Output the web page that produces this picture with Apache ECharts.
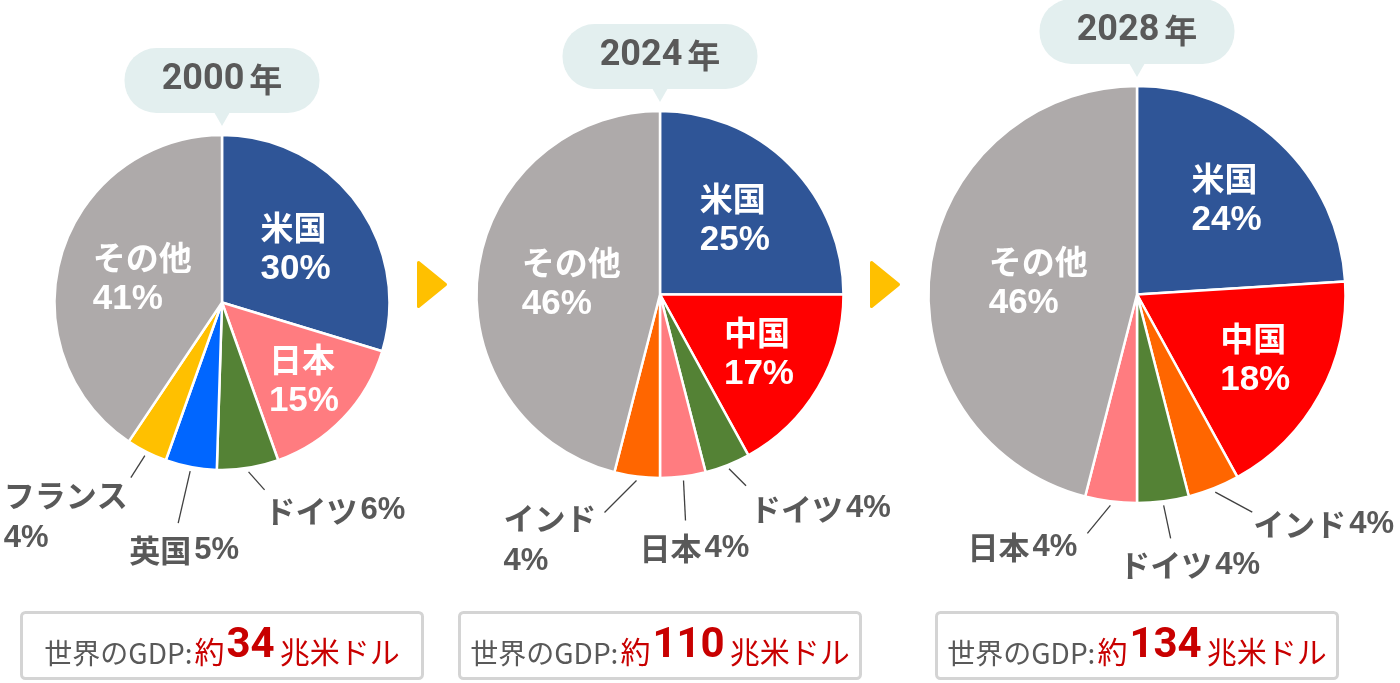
<!DOCTYPE html>
<html><head><meta charset="utf-8">
<script src="https://cdn.jsdelivr.net/npm/echarts@6/dist/echarts.min.js"></script>
<style>html,body{margin:0;padding:0;background:#fff}#c{width:1400px;height:683px}</style>
</head><body><div id="c"></div>
<script>
// ---- data ----
const years = ['2000', '2024', '2028'];
const yearSuffix = '年';
const gdpTotals = ['34', '110', '134'];
const gdpPrefix = '世界のGDP:';
const gdpApprox = '約';
const gdpUnit = '兆米ドル';

const names2000 = ['米国', '日本', 'ドイツ', '英国', 'フランス', 'その他'];
const values2000 = [30, 15, 6, 5, 4, 41];
const names2024 = ['米国', '中国', 'ドイツ', '日本', 'インド', 'その他'];
const values2024 = [25, 17, 4, 4, 4, 46];
const names2028 = ['米国', '中国', 'インド', 'ドイツ', '日本', 'その他'];
const values2028 = [24, 18, 4, 4, 4, 46];

const allNames = [names2000, names2024, names2028];
const allValues = [values2000, values2024, values2028];

// ---- styles / layout ----
const countryColors = {
  '米国': '#2f5597', '日本': '#ff7c80', 'ドイツ': '#548235', '英国': '#0066ff',
  'フランス': '#ffc000', 'その他': '#aeaaaa', '中国': '#ff0000', 'インド': '#ff6600'
};
const pieGeom = [
  { cx: 222, cy: 302.5, r: 166.5 },
  { cx: 660, cy: 294.5, r: 182.5 },
  { cx: 1137, cy: 294.5, r: 207.5 }
];
const innerLabelRadius = [
  { '米国': 0.55, '日本': 0.68, 'その他': 0.50 },
  { '米国': 0.58, '中国': 0.63, 'その他': 0.49 },
  { '米国': 0.63, '中国': 0.65, 'その他': 0.48 }
];
const outerLabelLayout = [
  { 'ドイツ': { line: [16, 18], text: [0, 21], align: 'left' },
    '英国': { line: [-12, 52], text: [6, 27], align: 'center' },
    'フランス': { line: [-14, 22], text: [-3, 39], align: 'right', wrap: true } },
  { 'ドイツ': { line: [17, 17], text: [4, 23], align: 'left' },
    '日本': { line: [2, 40], text: [9, 28], align: 'center' },
    'インド': { line: [-32, 32], text: [-8, 27.5], align: 'right', wrap: true } },
  { 'インド': { line: [37, 20], text: [1, 12], align: 'left' },
    'ドイツ': { line: [7, 33], text: [19, 27], align: 'center' },
    '日本': { line: [-23, 28], text: [-10, 14], align: 'right' } }
];
const lineGap = 5;
const CJK = "'Noto Sans CJK JP', sans-serif";
const NUM = "'Liberation Sans', 'Noto Sans CJK JP', sans-serif";
const GRAY = '#595959';
const RED = '#c80000';

function makeLabelLayout(si) {
  return function (p) {
    const g = pieGeom[si];
    const vals = allValues[si];
    const total = vals.reduce((a, b) => a + b, 0);
    let cum = 0;
    for (let i = 0; i < p.dataIndex; i++) cum += vals[i];
    const ang = (cum + vals[p.dataIndex] / 2) / total * Math.PI * 2;
    const dx = Math.sin(ang), dy = -Math.cos(ang);
    const name = allNames[si][p.dataIndex];
    const f = innerLabelRadius[si][name];
    if (f != null) {
      return { x: g.cx + dx * f * g.r, y: g.cy + dy * f * g.r, align: 'center', verticalAlign: 'middle' };
    }
    const o = outerLabelLayout[si][name];
    const sx = g.cx + dx * (g.r + lineGap), sy = g.cy + dy * (g.r + lineGap);
    const ex = sx + o.line[0], ey = sy + o.line[1];
    return {
      x: ex + o.text[0], y: ey + o.text[1], align: o.align, verticalAlign: 'middle',
      labelLinePoints: [[sx, sy], [ex, ey]]
    };
  };
}

const series = pieGeom.map((g, si) => ({
  type: 'pie',
  center: [g.cx, g.cy],
  radius: g.r + 1,
  startAngle: 90,
  clockwise: true,
  avoidLabelOverlap: false,
  animation: false,
  emphasis: { disabled: true },
  itemStyle: { borderColor: '#ffffff', borderWidth: 2.5 },
  data: allNames[si].map((n, i) => {
    const inner = innerLabelRadius[si][n] != null;
    return {
      name: n, value: allValues[si][i],
      itemStyle: { color: countryColors[n] },
      label: { position: inner ? 'inside' : 'outside' },
      labelLine: { show: !inner }
    };
  }),
  label: {
    show: true,
    formatter: function (p) {
      if (innerLabelRadius[si][p.name] != null) return '{ni|' + p.name + '}\n{pi|' + p.value + '%}';
      const o = outerLabelLayout[si][p.name];
      return o.wrap ? '{no|' + p.name + '}\n{pw|' + p.value + '%}' : '{no|' + p.name + '}{po|' + p.value + '%}';
    },
    rich: {
      ni: { color: '#fff', fontSize: 33, fontWeight: 'bold', fontFamily: CJK, lineHeight: 42, align: 'left' },
      pi: { color: '#fff', fontSize: 35, fontWeight: 'bold', fontFamily: NUM, lineHeight: 42, align: 'left' },
      no: { color: GRAY, fontSize: 31, fontWeight: 'bold', fontFamily: CJK, lineHeight: 43, align: 'left' },
      po: { color: GRAY, fontSize: 31, fontWeight: 'bold', fontFamily: NUM, lineHeight: 43, align: 'left', padding: [0, 0, 0, 3] },
      pw: { color: GRAY, fontSize: 31, fontWeight: 'bold', fontFamily: NUM, lineHeight: 43, align: 'left' }
    }
  },
  labelLine: { show: true, length: 10, length2: 0, lineStyle: { color: '#404040', width: 1.3 } },
  labelLayout: makeLabelLayout(si)
}));

const graphics = [];
// arrows between pies
const arrowShapes = [
  [[418.5, 262.5], [445.5, 284.5], [418.5, 306.5]],
  [[871.5, 262.5], [898.5, 284.5], [871.5, 306.5]]
];
arrowShapes.forEach(pts => graphics.push({
  type: 'polygon', silent: true, shape: { points: pts },
  style: { fill: '#ffc000', stroke: '#ffc000', lineWidth: 3, lineJoin: 'round' }
}));
pieGeom.forEach((g, i) => {
  const bw = 195, bh = 65;
  const bBottom = g.cy - g.r - 23;
  graphics.push({ type: 'rect', silent: true, shape: { x: g.cx - bw / 2, y: bBottom - bh, width: bw, height: bh, r: 32 }, style: { fill: '#e3efef' } });
  graphics.push({ type: 'polygon', silent: true, shape: { points: [[g.cx - 8, bBottom - 1], [g.cx + 8, bBottom - 1], [g.cx, bBottom + 13]] }, style: { fill: '#e3efef' } });
  graphics.push({
    type: 'text', silent: true, x: g.cx, y: bBottom - bh / 2 - 1,
    style: {
      text: '{d|' + years[i] + '}{y|' + yearSuffix + '}', align: 'center', verticalAlign: 'middle',
      rich: {
        d: { fontSize: 36, fontWeight: 'bold', fontFamily: "Roboto, sans-serif", fill: GRAY },
        y: { fontSize: 33, fontWeight: 'bold', fontFamily: CJK, fill: GRAY, padding: [0, 0, 0, 5] }
      }
    }
  });
  graphics.push({ type: 'rect', silent: true, shape: { x: g.cx - 200.5, y: 612.5, width: 401, height: 66, r: 4 }, style: { fill: '#ffffff', stroke: '#d4d4d4', lineWidth: 3 } });
  graphics.push({
    type: 'text', silent: true, x: g.cx, y: 646,
    style: {
      text: '{a|' + gdpPrefix + '}{b|' + gdpApprox + '}{c|' + gdpTotals[i] + '}{d|' + gdpUnit + '}',
      align: 'center', verticalAlign: 'middle',
      rich: {
        a: { fontSize: 28, fontFamily: CJK, fill: GRAY, verticalAlign: 'bottom' },
        b: { fontSize: 30, fontFamily: CJK, fill: RED, verticalAlign: 'bottom', padding: [0, 0, 0, 2] },
        c: { fontSize: 42, fontWeight: 'bold', fontFamily: "Roboto, sans-serif", fill: RED, verticalAlign: 'bottom', padding: [0, 2, 0, 2] },
        d: { fontSize: 30, fontFamily: CJK, fill: RED, verticalAlign: 'bottom', padding: [0, 0, 0, 3] }
      }
    }
  });
});

const chart = echarts.init(document.getElementById('c'), null, { renderer: 'canvas' });
chart.setOption({
  animation: false,
  backgroundColor: '#ffffff',
  graphic: graphics,
  series: series
});
</script>
</body></html>
